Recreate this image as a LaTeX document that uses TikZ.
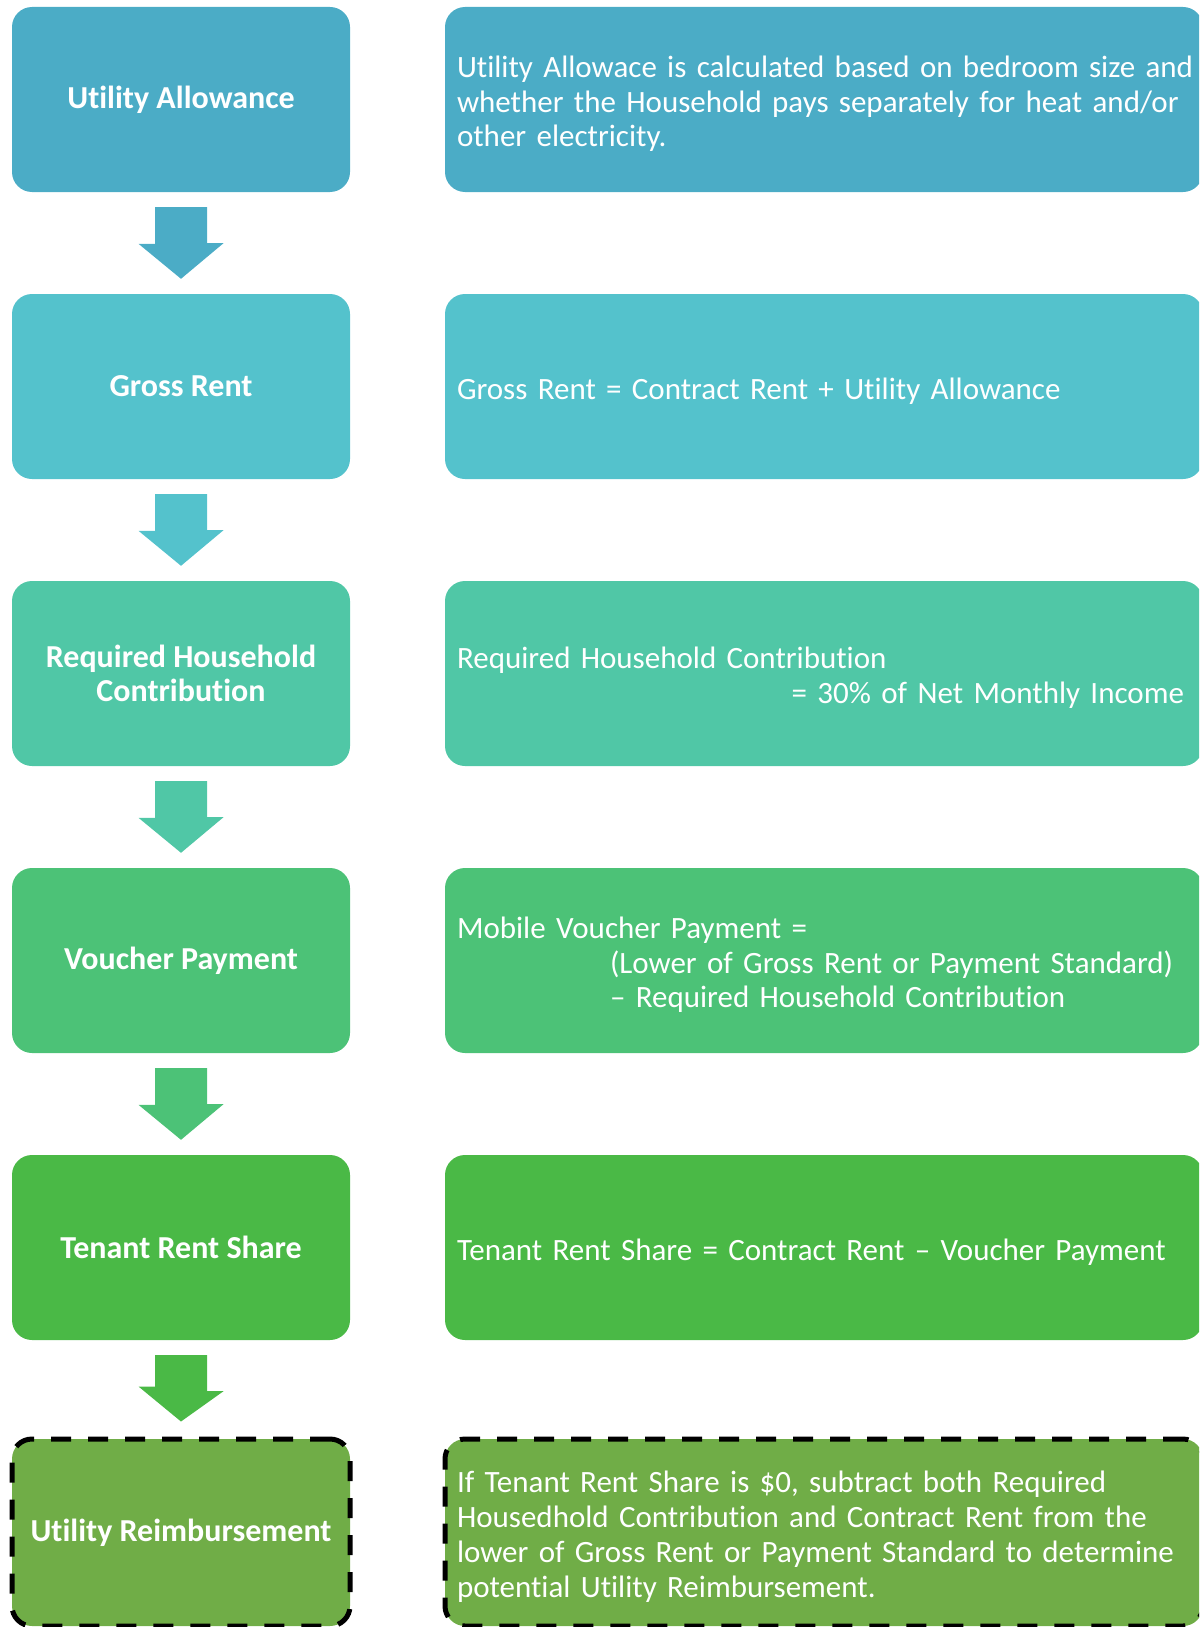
\documentclass[tikz,border=0pt]{standalone}
\usepackage{fontspec}
\setmainfont{Carlito}[Ligatures=NoCommon]
\usetikzlibrary{calc}
\definecolor{c1}{HTML}{4BACC6}
\definecolor{c2}{HTML}{54C2CC}
\definecolor{c3}{HTML}{50C7A6}
\definecolor{c4}{HTML}{4CC277}
\definecolor{c5}{HTML}{4AB946}
\definecolor{c6}{HTML}{70AD47}
\newcommand\myrfont{\fontsize{31}{34.7}\selectfont\spaceskip=0.2em\relax}
\newcommand\mytopgap{\rule{0pt}{30pt}}
\begin{document}
\begin{tikzpicture}[x=1pt,y=-1pt,
  lbox/.style={rounded corners=20pt, minimum width=338pt, minimum height=185pt, text=white,
    font=\fontsize{32}{34.7}\selectfont\bfseries, align=center, inner sep=0pt},
  rbox/.style={rounded corners=20pt, minimum width=758pt, minimum height=185pt, text=white,
    font=\myrfont, align=left, text width=740pt, inner xsep=9pt, inner ysep=0pt},
  dashbox/.style={draw=black, line width=5pt, dash pattern=on 20pt off 17pt}]
\useasboundingbox (0,0) rectangle (1199,1627);
\clip (0,0) rectangle (1199,1627);

\node[lbox, fill=c1] (l1) at (181,99.5) {Utility Allowance};
\node[lbox, fill=c2] (l2) at (181,386.5) {Gross Rent};
\node[lbox, fill=c3] (l3) at (181,673.5) {Required Household\\Contribution};
\node[lbox, fill=c4] (l4) at (181,960.5) {Voucher Payment};
\node[lbox, fill=c5] (l5) at (181,1247.5) {Tenant Rent Share};
\node[lbox, fill=c6, dashbox, minimum height=187pt] (l6) at (181,1532.5) {Utility Reimbursement};

\node[rbox, fill=c1] (r1) at (824,99.5) {\hspace*{3pt}\mytopgap\mbox{Utility Allowace is calculated based on bedroom size and}\\\hspace*{3pt}\mbox{whether the Household pays separately for heat and/or}\\\hspace*{3pt}other electricity.};
\node[rbox, fill=c2] (r2) at (824,386.5) {\hspace*{3pt}\mytopgap Gross Rent = Contract Rent + Utility Allowance};
\node[rbox, fill=c3] (r3) at (824,673.5) {\hspace*{3pt}\mytopgap Required Household Contribution\\\hspace*{\fill}= 30\% of Net Monthly Income\hspace*{10pt}};
\node[rbox, fill=c4] (r4) at (824,960.5) {\hspace*{3pt}\mytopgap Mobile Voucher Payment =\\\hspace*{156pt}\mbox{(Lower of Gross Rent or Payment Standard)}\\\hspace*{156pt}– Required Household Contribution};
\node[rbox, fill=c5] (r5) at (824,1247.5) {\hspace*{3pt}\mytopgap Tenant Rent Share = Contract Rent – Voucher Payment};
\node[rbox, fill=c6, dashbox, minimum height=187pt] (r6) at (824,1532.5) {\hspace*{3pt}\mytopgap\mbox{If Tenant Rent Share is \$0, subtract both Required}\\\hspace*{3pt}\mbox{Housedhold Contribution and Contract Rent from the}\\\hspace*{3pt}\mbox{lower of Gross Rent or Payment Standard to determine}\\\hspace*{3pt}potential Utility Reimbursement.};

\foreach \a/\b/\c in {l1/l2/c1, l2/l3/c2, l3/l4/c3, l4/l5/c4, l5/l6/c5}
  \fill[\c] ($(\a.south)+(-26,15)$) -- ++(52,0) -- ++(0,36) -- ++(16.5,0)
    -- ($(\b.north)+(0,-15)$) -- ++(-42.5,-35) -- ++(16.5,0) -- cycle;
\end{tikzpicture}
\end{document}
